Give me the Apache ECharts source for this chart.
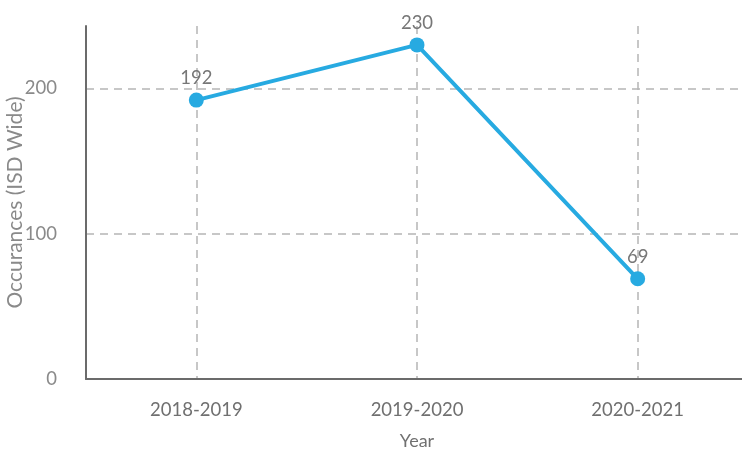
<!DOCTYPE html>
<html>
<head>
<meta charset="utf-8">
<script src="https://cdn.jsdelivr.net/npm/echarts@6/dist/echarts.min.js"></script>
<style>
  html, body { margin: 0; padding: 0; background: #fff; }
  #chart { width: 742px; height: 454px; }
</style>
</head>
<body>
<div id="chart"></div>
<script>
const years = ["2018-2019", "2019-2020", "2020-2021"];
const occurances = [192, 230, 69];

const fontFamily = "Lato, sans-serif";

const chart = echarts.init(document.getElementById("chart"));

chart.setOption({
    animation: false,
    grid: {
        left: 86,
        right: -6,
        top: 26,
        bottom: 75,
        outerBoundsMode: "none",
        containLabel: false
    },
    xAxis: {
        type: "category",
        data: years,
        name: "Year",
        nameLocation: "middle",
        nameGap: 53,
        nameMoveOverlap: false,
        nameTextStyle: { fontFamily: fontFamily, fontSize: 18, color: "#707070" },
        axisLine: { lineStyle: { color: "#6b6b6b", width: 2 } },
        axisTick: { show: false },
        axisLabel: { fontFamily: fontFamily, fontSize: 18.5, color: "#707070", margin: 22 },
        splitLine: {
            show: true,
            alignWithLabel: true,
            lineStyle: { color: "#b5b5b5", type: [8, 6], width: 1.5 }
        }
    },
    yAxis: {
        type: "value",
        min: 0,
        max: 243,
        interval: 100,
        name: "Occurances (ISD Wide)",
        nameLocation: "middle",
        nameGap: 60,
        nameMoveOverlap: false,
        nameTextStyle: { fontFamily: fontFamily, fontSize: 21, color: "#8a8a8a" },
        axisLine: { show: true, lineStyle: { color: "#6b6b6b", width: 2 } },
        axisTick: { show: false },
        axisLabel: { fontFamily: fontFamily, fontSize: 18.5, color: "#8a8a8a", margin: 29, showMaxLabel: false },
        splitLine: {
            show: true,
            showMinLine: false,
            showMaxLine: false,
            lineStyle: { color: "#b5b5b5", type: [8, 6], width: 1.5 }
        }
    },
    series: [{
        type: "line",
        data: occurances,
        symbol: "circle",
        symbolSize: 15,
        lineStyle: { color: "#27aae1", width: 4 },
        itemStyle: { color: "#27aae1" },
        label: {
            show: true,
            position: "top",
            distance: 5,
            fontFamily: fontFamily,
            fontSize: 18.5,
            color: "#777777"
        }
    }]
});
</script>
</body>
</html>
